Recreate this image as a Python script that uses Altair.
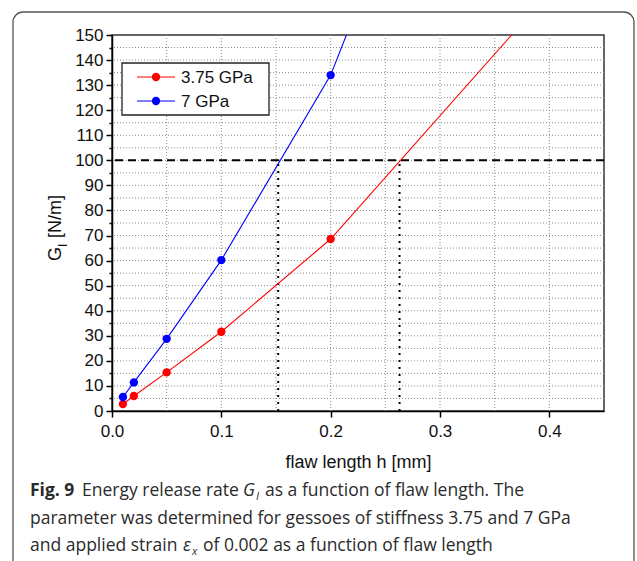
import altair as alt
import pandas as pd

# ---- data ----
series_names = ["3.75 GPa", "7 GPa"]
series_colors = ["#ff0000", "#0000ff"]

h_375 = [0.01, 0.02, 0.05, 0.1, 0.2, 0.4]
g_375 = [2.8, 6.0, 15.4, 31.6, 68.6, 167.0]
h_7 = [0.01, 0.02, 0.05, 0.1, 0.2, 0.3]
g_7 = [5.6, 11.4, 28.8, 60.2, 134.0, 245.0]

threshold = [100]
cross_h = [0.152, 0.263]
cross_g = [100, 100]

grid_x = [0.05, 0.1, 0.15, 0.2, 0.25, 0.3, 0.35, 0.4]
grid_y = [5, 10, 15, 20, 25, 30, 35, 40, 45, 50, 55, 60, 65, 70, 75, 80, 85, 90,
          95, 100, 105, 110, 115, 120, 125, 130, 135, 140, 145]
x_ticks = [0.0, 0.1, 0.2, 0.3, 0.4]
y_ticks = [0, 5, 10, 15, 20, 25, 30, 35, 40, 45, 50, 55, 60, 65, 70, 75, 80, 85,
           90, 95, 100, 105, 110, 115, 120, 125, 130, 135, 140, 145, 150]

df = pd.DataFrame({
    "h": h_375 + h_7,
    "g": g_375 + g_7,
    "s": [series_names[0]] * len(h_375) + [series_names[1]] * len(h_7),
})

W, H = 492, 376
xs = alt.Scale(domain=[0, 0.45], nice=False, zero=False)
ys = alt.Scale(domain=[0, 150], nice=False)
cs = alt.Scale(domain=series_names, range=series_colors)

xaxis = alt.Axis(
    values=x_ticks, format=".1f", title="flaw length h [mm]",
    tickSize=6, labelPadding=6, titlePadding=14, grid=False, labelFlush=False,
)
yaxis = alt.Axis(
    values=y_ticks, title=None, grid=False, labelFlush=False,
    labelExpr="datum.value % 10 === 0 ? datum.label : ''",
    tickSize={"condition": {"test": "datum.value % 10 === 0", "value": 6}, "value": 3},
    labelPadding=3,
)

one = pd.DataFrame({"k": [0]})

gridv = alt.Chart(pd.DataFrame({"h": grid_x})).mark_rule(
    color="#8a8a8a", strokeWidth=1, strokeDash=[1, 2]
).encode(x=alt.X("h:Q", scale=xs, axis=xaxis))

gridh = alt.Chart(pd.DataFrame({"g": grid_y})).mark_rule(
    color="#8a8a8a", strokeWidth=1, strokeDash=[1, 2]
).encode(y=alt.Y("g:Q", scale=ys, axis=yaxis))

thr = alt.Chart(pd.DataFrame({"g": threshold})).mark_rule(
    color="black", strokeWidth=2, strokeDash=[8, 5]
).encode(y=alt.Y("g:Q", scale=ys, axis=yaxis))

drops = alt.Chart(pd.DataFrame({"h": cross_h, "g": cross_g})).transform_calculate(
    g0="0"
).mark_rule(
    color="black", strokeWidth=2, strokeDash=[2, 5]
).encode(
    x=alt.X("h:Q", scale=xs, axis=xaxis),
    y=alt.Y("g0:Q", scale=ys, axis=yaxis),
    y2="g:Q",
)

lines = alt.Chart(df).mark_line(strokeWidth=1.1, clip=True).encode(
    x=alt.X("h:Q", scale=xs, axis=xaxis),
    y=alt.Y("g:Q", scale=ys, axis=yaxis),
    color=alt.Color("s:N", scale=cs, legend=None),
    detail="s:N",
)

points = alt.Chart(df).mark_circle(size=70, opacity=1, clip=True).encode(
    x=alt.X("h:Q", scale=xs, axis=xaxis),
    y=alt.Y("g:Q", scale=ys, axis=yaxis),
    color=alt.Color("s:N", scale=cs, legend=None),
)

# ---- legend box (decoration) ----
lbox = alt.Chart(one).mark_rect(fill="white", stroke="#222", strokeWidth=1.3).encode(
    x=alt.value(10), x2=alt.value(157), y=alt.value(28), y2=alt.value(80)
)
leg_layers = [lbox]
for i, (name, col) in enumerate(zip(series_names, series_colors)):
    yy = 42 + i * 24
    leg_layers.append(alt.Chart(one).mark_rule(color=col, strokeWidth=1.1).encode(
        x=alt.value(25), x2=alt.value(63), y=alt.value(yy)))
    leg_layers.append(alt.Chart(one).mark_circle(size=70, opacity=1, color=col).encode(
        x=alt.value(44), y=alt.value(yy)))
    leg_layers.append(alt.Chart(one).mark_text(
        align="left", baseline="middle", font="Liberation Sans", fontSize=17, color="#111"
    ).encode(x=alt.value(69), y=alt.value(yy + 1), text=alt.value(name)))


def txt(s, x, y, size=18, font="Liberation Sans", weight="normal", style="normal",
        angle=0, color="#111", align="left"):
    return alt.Chart(one).mark_text(
        align=align, baseline="alphabetic", font=font, fontSize=size,
        fontWeight=weight, fontStyle=style, angle=angle, color=color,
    ).encode(x=alt.value(x), y=alt.value(y), text=alt.value(s))


# ---- y-axis title with subscript ----
ytitle = [
    txt("G", -51, 226, angle=270),
    txt("I", -45, 212, size=12, angle=270),
    txt("[N/m]", -51, 203, angle=270),
]

# ---- caption ----
cf = "Open Sans"
cc = "#2b2b2b"
cs_ = 17.5
cap = [
    txt("Fig. 9", -82, 461, size=cs_, font=cf, weight="bold", color=cc),
    txt("Energy release rate", -30, 461, size=cs_, font=cf, color=cc),
    txt("G", 131, 461, size=cs_, font=cf, style="italic", color=cc),
    txt("I", 144, 465, size=11, font=cf, style="italic", color=cc),
    txt("as a function of flaw length. The", 153, 461, size=cs_, font=cf, color=cc),
    txt("parameter was determined for gessoes of stiffness 3.75 and 7 GPa",
        -82, 489, size=cs_, font=cf, color=cc),
    txt("and applied strain", -82, 516, size=cs_, font=cf, color=cc),
    txt("ε", 71, 516, size=cs_, font=cf, style="italic", color=cc),
    txt("x", 80, 520, size=11, font=cf, style="italic", color=cc),
    txt("of 0.002 as a function of flaw length", 91, 516, size=cs_, font=cf, color=cc),
]

frame = alt.Chart(one).mark_rect(
    fill=None, fillOpacity=0, stroke="#555555", strokeWidth=1.3, cornerRadius=10
).encode(x=alt.value(-99), x2=alt.value(522), y=alt.value(-23), y2=alt.value(545))

chart = alt.layer(
    gridv, gridh, thr, drops, lines, points, *leg_layers, *ytitle, *cap, frame
).properties(
    width=W, height=H,
    padding={"left": 112, "top": 35, "right": 33, "bottom": 150},
    autosize=alt.AutoSizeParams(type="none"),
).configure_view(
    stroke="#333333", strokeWidth=1.5
).configure_axis(
    domainColor="black", domainWidth=1.5, tickColor="black", tickWidth=1.5,
    labelFont="Liberation Sans", labelFontSize=17, labelColor="#111",
    titleFont="Liberation Sans", titleFontSize=18, titleColor="#111",
    titleFontWeight="normal",
)

chart.save("out.html", embed_options={"renderer": "svg", "actions": False})
